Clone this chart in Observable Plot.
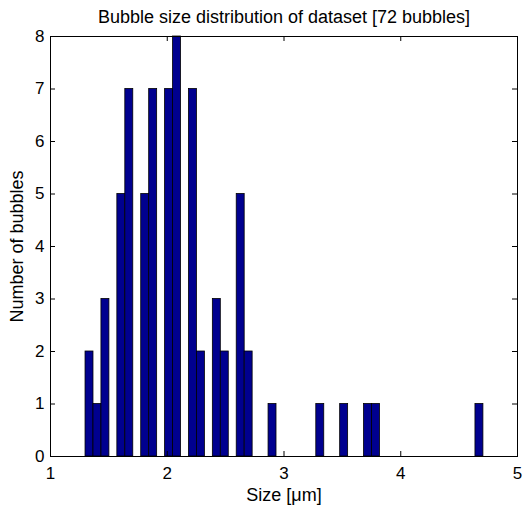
<!DOCTYPE html>
<html>
<head>
<meta charset="utf-8">
<script src="https://cdn.jsdelivr.net/npm/d3@7"></script>
<script src="https://cdn.jsdelivr.net/npm/@observablehq/plot@0.6"></script>
<style>
  html, body { margin: 0; padding: 0; background: #ffffff; }
  svg { display: block; }
</style>
</head>
<body>
<div id="chart"></div>
<script>
// Histogram definition (MATLAB-style hist with 50 bins)
const histMin = 1.30;
const binWidth = 0.06816;
const binCounts = [
  2, 1, 3, 0, 5, 7, 0, 5, 7, 0,
  7, 8, 0, 7, 2, 0, 3, 2, 0, 5,
  2, 0, 0, 1, 0, 0, 0, 0, 0, 1,
  0, 0, 1, 0, 0, 1, 1, 0, 0, 0,
  0, 0, 0, 0, 0, 0, 0, 0, 0, 1
];
const xTicks = [1, 2, 3, 4, 5];
const yTicks = [0, 1, 2, 3, 4, 5, 6, 7, 8];
const titleText = "Bubble size distribution of dataset [72 bubbles]";
const xLabel = "Size [\u03bcm]";
const yLabel = "Number of bubbles";

const bins = binCounts
  .map((c, i) => ({x1: histMin + i * binWidth, x2: histMin + (i + 1) * binWidth, count: c}))
  .filter(d => d.count > 0);

const W = 523, H = 509;
const mL = 50, mR = 6, mT = 36, mB = 53;
const plotW = W - mL - mR, plotH = H - mT - mB;
const tick = 5;
const font = "'Liberation Sans', Arial, Helvetica, sans-serif";

const chart = Plot.plot({
  width: W,
  height: H,
  marginLeft: mL,
  marginRight: mR,
  marginTop: mT,
  marginBottom: mB,
  style: {fontFamily: font, fontSize: "17px", color: "black", background: "white", overflow: "visible"},
  x: {domain: [1, 5]},
  y: {domain: [0, 8]},
  marks: [
    Plot.rectY(bins, {x1: "x1", x2: "x2", y: "count", fill: "#00008F", stroke: "black", strokeWidth: 0.8, inset: 0}),
    Plot.frame({stroke: "black", strokeWidth: 1}),
    // inward ticks on all four sides
    Plot.ruleX(xTicks, {x: d => d, insetTop: plotH - tick, stroke: "black"}),
    Plot.ruleX(xTicks, {x: d => d, insetBottom: plotH - tick, stroke: "black"}),
    Plot.ruleY(yTicks, {y: d => d, insetRight: plotW - tick, stroke: "black"}),
    Plot.ruleY(yTicks, {y: d => d, insetLeft: plotW - tick, stroke: "black"}),
    Plot.axisX({ticks: xTicks, tickSize: 0, tickPadding: 10, label: null, fontSize: 17, tickFormat: d3.format("d")}),
    Plot.axisY({ticks: yTicks, tickSize: 0, tickPadding: 6, label: null, fontSize: 17, tickFormat: d3.format("d")}),
    Plot.text([titleText], {frameAnchor: "top", dy: -19.3, lineAnchor: "middle", textAnchor: "middle", fontSize: 18, fill: "black"}),
    Plot.text([xLabel], {frameAnchor: "bottom", dy: 39.2, lineAnchor: "middle", textAnchor: "middle", fontSize: 18, fill: "black"}),
    Plot.text([yLabel], {frameAnchor: "left", dx: -32.8, rotate: -90, lineAnchor: "middle", textAnchor: "middle", fontSize: 18, fill: "black"})
  ]
});
document.getElementById("chart").appendChild(chart);
</script>
</body>
</html>
